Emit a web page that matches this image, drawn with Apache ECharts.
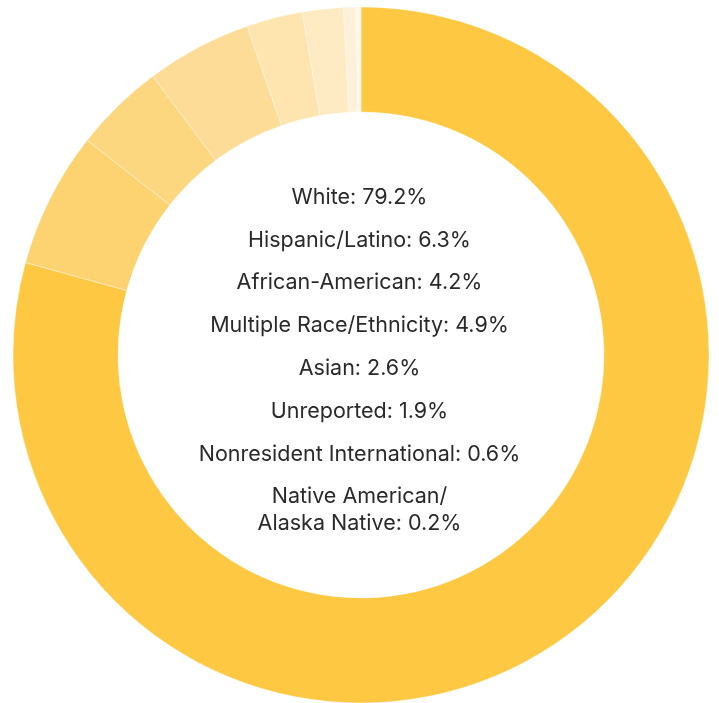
<!DOCTYPE html>
<html>
<head>
<meta charset="utf-8">
<script src="https://cdn.jsdelivr.net/npm/echarts@6/dist/echarts.min.js"></script>
<style>
  html, body { margin: 0; padding: 0; background: #fff; }
  #chart { width: 719px; height: 703px; }
</style>
</head>
<body>
<div id="chart"></div>
<script>
// enrollment by race/ethnicity (%)
var categories = [
  "White",
  "Hispanic/Latino",
  "African-American",
  "Multiple Race/Ethnicity",
  "Asian",
  "Unreported",
  "Nonresident International",
  "Native American/\nAlaska Native"
];
var values = [79.2, 6.3, 4.2, 4.9, 2.6, 1.9, 0.6, 0.2];

// shades from dark to light, one per slice
var palette = ["#fec843", "#fdd270", "#fdd680", "#fddc97", "#fee4ae", "#feeac3", "#fef1d9", "#fef7ea"];

var myChart = echarts.init(document.getElementById("chart"));

var pieData = categories.map(function (name, i) {
  return { name: name, value: values[i] };
});

// center text, one line per category
var labelTexts = categories.map(function (name, i) {
  return {
    type: "text",
    left: "center",
    top: 184 + i * 42.8,
    style: {
      text: name + ": " + values[i] + "%",
      textAlign: "center",
      font: "21.5px Inter, 'Noto Sans', sans-serif",
      fill: "#2a2a2a",
      lineHeight: 26.5
    }
  };
});

myChart.setOption({
  animation: false,
  color: palette,
  series: [
    {
      type: "pie",
      center: [361, 355],
      radius: [243, 348],
      startAngle: 90,
      clockwise: true,
      label: { show: false },
      labelLine: { show: false },
      emphasis: { disabled: true },
      itemStyle: {
        borderWidth: 0.6,
        borderColor: "rgba(255,255,255,0.6)"
      },
      data: pieData
    }
  ],
  graphic: labelTexts
});
</script>
</body>
</html>
